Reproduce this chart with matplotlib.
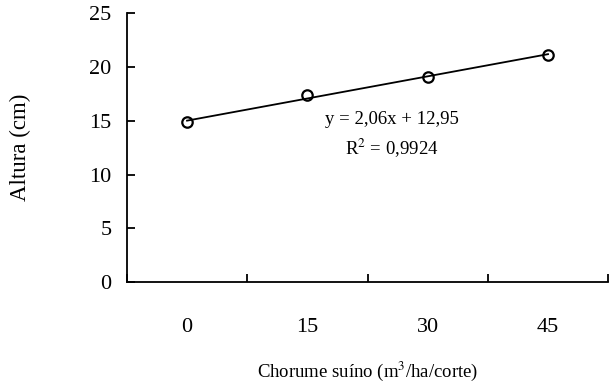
import matplotlib
matplotlib.use("Agg")
import matplotlib.pyplot as plt
import numpy as np

# data
doses = ["0", "15", "30", "45"]
altura = [14.9, 17.4, 19.1, 21.1]
slope = 2.06
intercept = 12.95
r2 = 0.9924

plt.rcParams["font.family"] = ["Liberation Serif", "DejaVu Serif"]
plt.rcParams["mathtext.fontset"] = "stix"

fig = plt.figure(figsize=(6.1, 3.88), dpi=100)
ax = fig.add_axes([0.208, 0.273, 0.789, 0.693])

xpos = np.arange(1, len(doses) + 1)

# trend line
xl = np.array([xpos[0], xpos[-1]])
ax.plot(xl, slope * xl + intercept, color="black", lw=1.3, zorder=2)
ax.plot(xpos, altura, linestyle="none", marker="o", markersize=7.5,
        markerfacecolor="none", markeredgecolor="black", markeredgewidth=1.6, zorder=3)

eq = f"y = {slope:.2f}x + {intercept:.2f}".replace(".", ",")
rr = "R$^2$ = " + f"{r2:.4f}".replace(".", ",")
ax.text(2.70, 15.1, eq, ha="center", va="center", fontsize=13.5)
ax.text(2.70, 12.4, rr, ha="center", va="center", fontsize=13.5)

ax.set_xlim(0.5, len(doses) + 0.5)
ax.set_ylim(0, 25)
ax.set_yticks([0, 5, 10, 15, 20, 25])
ax.set_xticks(xpos)
ax.set_xticklabels(doses)
ax.set_xticks(np.arange(0.5, len(doses) + 1, 1.0), minor=True)

ax.tick_params(axis="x", which="major", length=0, pad=26, labelsize=16)
ax.tick_params(axis="x", which="minor", direction="in", length=6, width=1.3)
ax.tick_params(axis="y", direction="in", length=6, width=1.3, pad=11, labelsize=16)

for s in ["top", "right"]:
    ax.spines[s].set_visible(False)
for s in ["left", "bottom"]:
    ax.spines[s].set_linewidth(1.3)

ax.set_ylabel("Altura (cm)", fontsize=16.5, labelpad=42)
ax.set_xlabel("Chorume suíno (m$^3$/ha/corte)", fontsize=13.5, labelpad=16)

fig.savefig("out.png", dpi=100)
